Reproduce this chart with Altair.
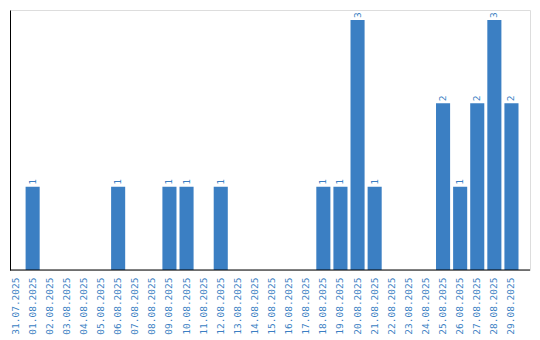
import altair as alt
import pandas as pd

dates = ["31.07.2025", "01.08.2025", "02.08.2025", "03.08.2025", "04.08.2025",
         "05.08.2025", "06.08.2025", "07.08.2025", "08.08.2025", "09.08.2025",
         "10.08.2025", "11.08.2025", "12.08.2025", "13.08.2025", "14.08.2025",
         "15.08.2025", "16.08.2025", "17.08.2025", "18.08.2025", "19.08.2025",
         "20.08.2025", "21.08.2025", "22.08.2025", "23.08.2025", "24.08.2025",
         "25.08.2025", "26.08.2025", "27.08.2025", "28.08.2025", "29.08.2025"]
counts = [0, 1, 0, 0, 0, 0, 1, 0, 0, 1,
          1, 0, 1, 0, 0, 0, 0, 0, 1, 1,
          3, 1, 0, 0, 0, 2, 1, 2, 3, 2]

df = pd.DataFrame({"date": dates, "count": counts})

BLUE = "#3b7fc3"
FONT = "DejaVu Sans Mono"

xscale = alt.Scale(domain=dates, range=[-1.5, 508.5], paddingInner=3 / 17, paddingOuter=0)
yscale = alt.Scale(domain=[0, 3.12], nice=False)

base = alt.Chart(df)

bars = base.mark_bar(color=BLUE).encode(
    x=alt.X("date:N", scale=xscale, sort=dates,
            axis=alt.Axis(title=None, labelAngle=-90, ticks=False, domain=False,
                          labelPadding=7, labelColor=BLUE, labelFont=FONT,
                          labelFontSize=9.5, labelAlign="right", labelBaseline="middle")),
    y=alt.Y("count:Q", scale=yscale,
            axis=alt.Axis(title=None, labels=False, ticks=False, grid=False,
                          domain=True, domainColor="black", domainWidth=1)),
)

text = base.transform_filter("datum.count > 0").mark_text(
    angle=270, align="left", baseline="middle", dx=2, color=BLUE,
    font=FONT, fontSize=9.5
).encode(
    x=alt.X("date:N", scale=xscale, sort=dates),
    y=alt.Y("count:Q", scale=yscale),
    text="count:Q",
)

baseline = alt.Chart(pd.DataFrame({"v": [0]})).mark_rule(color="black", strokeWidth=1).encode(
    y=alt.Y("v:Q", scale=yscale),
    x=alt.value(0),
    x2=alt.value(520),
)

chart = alt.layer(bars, text, baseline).properties(
    width=520, height=260,
    padding={"left": 10, "top": 10, "right": 10, "bottom": 70},
    autosize=alt.AutoSizeParams(type="none"),
).configure_view(stroke=None).configure(background="white")

chart.save("out.html", embed_options={"renderer": "svg", "actions": False})
